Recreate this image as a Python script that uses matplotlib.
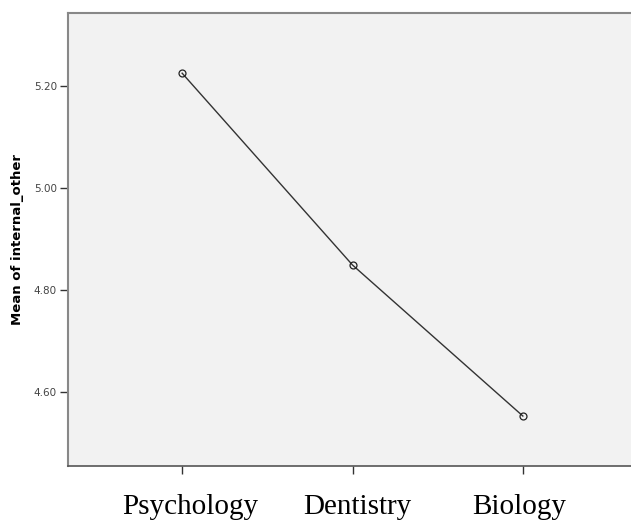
import matplotlib
matplotlib.use('Agg')
import matplotlib.pyplot as plt
import matplotlib.transforms as mtransforms

categories = ['Psychology', 'Dentistry', 'Biology']
means = [5.225, 4.849, 4.553]
y_ticks = [4.60, 4.80, 5.00, 5.20]

fig = plt.figure(figsize=(6.31, 5.22), dpi=100)
W, H = 631, 522
# axes box in pixels: left 68, top 13, bottom 466, runs past right edge
ax = fig.add_axes([68 / W, (H - 466) / H, (637 - 68) / W, (466 - 13) / H])
ax.set_facecolor('#f2f2f2')

x = list(range(len(categories)))
ax.plot(x, means, color='#333333', linewidth=1.0, marker='o', markersize=5,
        markerfacecolor='none', markeredgecolor='#222222', markeredgewidth=0.9)

ax.set_xlim(-0.67, 2.67)
ax.set_ylim(4.455, 5.343)

ax.set_yticks(y_ticks)
ax.set_yticklabels([f'{v:.2f}' for v in y_ticks], fontsize=7.5,
                   family='DejaVu Sans', color='#444444')
ax.set_xticks(x)
ax.set_xticklabels(categories, fontsize=21, family='Liberation Serif')
ax.tick_params(axis='y', length=6, width=1, color='#333333', pad=2)
ax.tick_params(axis='x', length=6, width=1, color='#333333', pad=14)

# labels in the original sit slightly off their ticks
shifts = [8, 5, -4]
for lab, dx in zip(ax.get_xticklabels(), shifts):
    lab.set_transform(lab.get_transform() +
                      mtransforms.ScaledTranslation(dx / 100, 0, fig.dpi_scale_trans))

ax.set_ylabel('Mean of internal_other', fontsize=9.5, fontweight='bold',
              family='DejaVu Sans', labelpad=7)

for side in ['left', 'top']:
    ax.spines[side].set_color('#888888')
    ax.spines[side].set_linewidth(1.5)
ax.spines['bottom'].set_color('#555555')
ax.spines['bottom'].set_linewidth(1.2)
ax.spines['right'].set_visible(False)

fig.savefig('out.png', dpi=100)
